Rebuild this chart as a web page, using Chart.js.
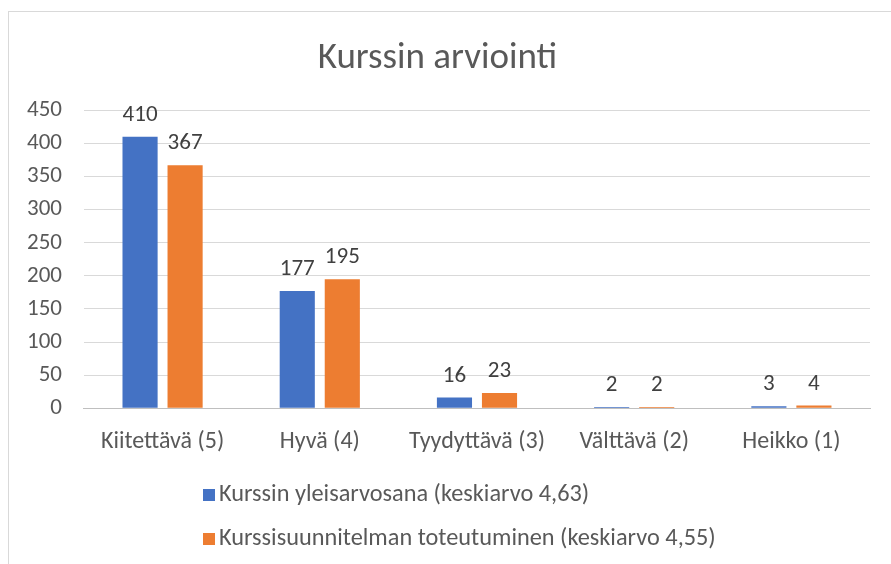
<!DOCTYPE html>
<html>
<head>
<meta charset="utf-8">
<script src="https://cdn.jsdelivr.net/npm/chart.js@4"></script>
<style>
  body { margin: 0; background: #fff; font-family: Carlito, Lato, sans-serif; }
  #kehys { position: absolute; left: 8px; top: 11px; width: 900px; height: 600px; border: 1px solid #d9d9d9; }
  #wrap { position: absolute; left: 0; top: 0; width: 891px; height: 564px; }
  #selite { position: absolute; left: 203px; top: 480px; color: #595959; font-size: 24.3px; }
  #selite div { height: 44px; line-height: 26px; white-space: nowrap; }
  #selite span.box { display: inline-block; width: 12px; height: 12px; margin-right: 4px; vertical-align: 0px; }
</style>
</head>
<body>
<div id="kehys"></div>
<div id="wrap"><canvas id="kaavio" width="891" height="564"></canvas></div>
<div id="selite"></div>
<script>
const luokat = ["Kiitettävä (5)", "Hyvä (4)", "Tyydyttävä (3)", "Välttävä (2)", "Heikko (1)"];
const yleisarvosana = [410, 177, 16, 2, 3];
const toteutuminen = [367, 195, 23, 2, 4];
const sarjaNimet = ["Kurssin yleisarvosana (keskiarvo 4,63)", "Kurssisuunnitelman toteutuminen (keskiarvo 4,55)"];
const yTicks = [0, 50, 100, 150, 200, 250, 300, 350, 400, 450];

const fontti = "Carlito, Lato, sans-serif";

// arvot pylväiden yläpuolelle
const arvoPlugin = {
  id: "arvot",
  afterDatasetsDraw(chart) {
    const ctx = chart.ctx;
    ctx.save();
    ctx.font = "23px " + fontti;
    ctx.fillStyle = "#404040";
    ctx.textAlign = "center";
    ctx.textBaseline = "alphabetic";
    chart.data.datasets.forEach((ds, i) => {
      chart.getDatasetMeta(i).data.forEach((bar, j) => {
        ctx.fillText(ds.data[j], bar.x, bar.y - 16);
      });
    });
    ctx.restore();
  }
};

const kaavio = new Chart(document.getElementById("kaavio"), {
  type: "bar",
  data: {
    labels: luokat,
    datasets: [
      { label: sarjaNimet[0], data: yleisarvosana, backgroundColor: "#4472C4" },
      { label: sarjaNimet[1], data: toteutuminen, backgroundColor: "#ED7D31" }
    ]
  },
  options: {
    responsive: false,
    animation: false,
    layout: { autoPadding: false, padding: { left: 5, right: 21, top: 20, bottom: 97 } },
    datasets: { bar: { categoryPercentage: 0.573, barPercentage: 0.78 } },
    plugins: {
      legend: { display: false },
      tooltip: { enabled: false },
      title: {
        display: true,
        text: "Kurssin arviointi",
        color: "#595959",
        font: { family: fontti, size: 37, weight: "normal" },
        padding: { top: 17, bottom: 29 }
      }
    },
    scales: {
      x: {
        grid: { display: false },
        border: { color: "#bfbfbf" },
        ticks: { color: "#595959", font: { family: fontti, size: 24 }, padding: 11 }
      },
      y: {
        min: 0,
        max: 450,
        afterBuildTicks(axis) { axis.ticks = yTicks.map(v => ({ value: v })); },
        grid: { color: "#d9d9d9", drawTicks: false },
        border: { display: false },
        ticks: { color: "#595959", font: { family: fontti, size: 23 }, padding: 22 }
      }
    }
  },
  plugins: [arvoPlugin]
});

// selite
const selite = document.getElementById("selite");
kaavio.data.datasets.forEach(ds => {
  const rivi = document.createElement("div");
  rivi.innerHTML = '<span class="box" style="background:' + ds.backgroundColor + '"></span>' + ds.label;
  selite.appendChild(rivi);
});
</script>
</body>
</html>
